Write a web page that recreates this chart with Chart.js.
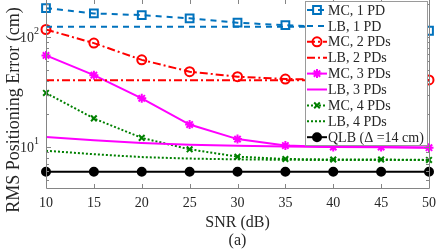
<!DOCTYPE html>
<html><head><meta charset="utf-8">
<script src="https://cdn.jsdelivr.net/npm/chart.js@4/dist/chart.umd.min.js"></script>
<style>html,body{margin:0;padding:0;background:#fff;}#wrap{width:443px;height:250px;position:relative;}</style>
</head><body><div id="wrap"><canvas id="c" width="443" height="250"></canvas></div>
<script>
// ---- data ----
const snr = [10, 15, 20, 25, 30, 35, 40, 45, 50];
const mc1PD = [183, 164, 158, 148, 135, 128, 122, 118, 114];
const lb1PD = [124, 124, 124, 124, 124, 124, 124, 124, 124];
const mc2PDs = [117, 88, 62, 48.4, 43.6, 41.5, 41, 40.8, 40.7];
const lb2PDs = [40.5, 40.5, 40.5, 40.5, 40.5, 40.5, 40.5, 40.5, 40.5];
const mc3PDs = [68, 45, 27.7, 16, 11.8, 10.3, 10.0, 10.0, 9.86];
const lb3PDs = [12.3, 11.5, 10.9, 10.5, 10.25, 10.1, 10.0, 9.95, 9.9];
const mc4PDs = [31, 18.2, 12.1, 9.53, 8.17, 7.78, 7.7, 7.7, 7.63];
const lb4PDs = [9.25, 8.6, 8.1, 7.85, 7.72, 7.65, 7.62, 7.6, 7.6];
const qlb = [5.96, 5.96, 5.96, 5.96, 5.96, 5.96, 5.96, 5.96, 5.96];
const seriesLabels = ['MC, 1 PD', 'LB, 1 PD', 'MC, 2 PDs', 'LB, 2 PDs', 'MC, 3 PDs', 'LB, 3 PDs', 'MC, 4 PDs', 'LB, 4 PDs', 'QLB (\u0394 =14 cm)'];
const yTickValues = [10, 100];
const yTickLabels = [['10', '1'], ['10', '2']];
const yMinorValues = [5, 6, 7, 8, 9, 20, 30, 40, 50, 60, 70, 80, 90, 200];
const xTitle = 'SNR (dB)';
const yTitle = 'RMS Positioning Error (cm)';
const subCaption = '(a)';

const FONT = "'Liberation Serif', 'Times New Roman', serif";
const TXT = '#262626';
const AX = '#858585';
const BLUE = '#0072BD', RED = '#FF0000', MAG = '#FF00FF', GREEN = '#008000', BLACK = '#000000';
const NONE = 'rgba(0,0,0,0)';

function ds(label, data, color, dash, style, radius, fill) {
  return {
    label, data: snr.map((x, i) => ({x, y: data[i]})),
    borderColor: color, backgroundColor: NONE, borderWidth: 2, borderDash: dash,
    pointStyle: style || 'circle', pointRadius: style ? radius : 0, pointHoverRadius: style ? radius : 0,
    pointBorderWidth: 2, pointBorderColor: color, pointBackgroundColor: fill || NONE,
    tension: 0, fill: false, clip: false
  };
}
const DASH = [6, 5], DASHDOT = [8, 3, 2, 3], DOT = [2, 2];
const datasets = [
  ds(seriesLabels[0], mc1PD, BLUE, DASH, 'rect', 5.5),
  ds(seriesLabels[1], lb1PD, BLUE, DASH),
  ds(seriesLabels[2], mc2PDs, RED, DASHDOT, 'circle', 4.5),
  ds(seriesLabels[3], lb2PDs, RED, DASHDOT),
  ds(seriesLabels[4], mc3PDs, MAG, [], 'star', 4.5),
  ds(seriesLabels[5], lb3PDs, MAG, []),
  ds(seriesLabels[6], mc4PDs, GREEN, DOT, 'crossRot', 4),
  ds(seriesLabels[7], lb4PDs, GREEN, DOT),
  ds(seriesLabels[8], qlb, BLACK, [], 'circle', 4, BLACK)
];

function drawMarker(ctx, d, x, y) {
  if (!d.pointRadius) return;
  ctx.save();
  ctx.setLineDash([]);
  ctx.strokeStyle = d.pointBorderColor; ctx.fillStyle = d.pointBackgroundColor; ctx.lineWidth = d.pointBorderWidth;
  if (Chart.helpers && Chart.helpers.drawPoint) {
    Chart.helpers.drawPoint(ctx, {pointStyle: d.pointStyle, radius: d.pointRadius, rotation: 0, borderWidth: d.pointBorderWidth}, x, y);
  }
  ctx.restore();
}

const decor = {
  id: 'decor',
  afterDatasetsDraw(chart) {
    const ctx = chart.ctx, a = chart.chartArea, xs = chart.scales.x, ys = chart.scales.y;
    ctx.save();
    // box (left, bottom, right)
    ctx.strokeStyle = AX; ctx.lineWidth = 1; ctx.setLineDash([]);
    ctx.beginPath();
    ctx.moveTo(a.left + 0.5, a.top); ctx.lineTo(a.left + 0.5, a.bottom + 0.5);
    ctx.lineTo(a.right + 0.5, a.bottom + 0.5); ctx.lineTo(a.right + 0.5, a.top);
    ctx.stroke();
    // inward ticks
    ctx.beginPath();
    snr.forEach(v => {
      const px = Math.round(xs.getPixelForValue(v)) + 0.5;
      ctx.moveTo(px, a.bottom); ctx.lineTo(px, a.bottom - 4);
      ctx.moveTo(px, a.top); ctx.lineTo(px, a.top + 4);
    });
    yTickValues.forEach(v => {
      const py = Math.round(ys.getPixelForValue(v)) + 0.5;
      ctx.moveTo(a.left, py); ctx.lineTo(a.left + 5, py);
      ctx.moveTo(a.right, py); ctx.lineTo(a.right - 5, py);
    });
    yMinorValues.forEach(v => {
      const py = Math.round(ys.getPixelForValue(v)) + 0.5;
      if (py < a.top || py > a.bottom) return;
      ctx.moveTo(a.left, py); ctx.lineTo(a.left + 3, py);
      ctx.moveTo(a.right, py); ctx.lineTo(a.right - 3, py);
    });
    ctx.stroke();
    // y tick labels with superscript
    ctx.fillStyle = TXT;
    yTickValues.forEach((v, i) => {
      const py = ys.getPixelForValue(v);
      ctx.font = '10px ' + FONT;
      const sw = ctx.measureText(yTickLabels[i][1]).width;
      const xr = a.left - 7;
      ctx.textBaseline = 'middle';
      ctx.textAlign = 'left';
      ctx.fillText(yTickLabels[i][1], xr - sw, py - 6);
      ctx.font = '14px ' + FONT;
      ctx.textAlign = 'right';
      ctx.fillText(yTickLabels[i][0], xr - sw, py + 1);
    });
    // titles
    ctx.font = '16px ' + FONT;
    ctx.textAlign = 'center'; ctx.textBaseline = 'middle';
    ctx.fillText(xTitle, (a.left + a.right) / 2, 223);
    ctx.fillText(subCaption, (a.left + a.right) / 2, 241);
    ctx.save();
    ctx.font = '18px ' + FONT;
    ctx.translate(14, 110); ctx.rotate(-Math.PI / 2);
    ctx.fillText(yTitle, 0, 0);
    ctx.restore();
    // legend
    const lx = 305.5, ly = 1.5, lw = 122, lh = 144;
    ctx.fillStyle = '#ffffff';
    ctx.fillRect(lx, ly, lw, lh);
    ctx.strokeStyle = '#9a9a9a'; ctx.lineWidth = 1;
    ctx.strokeRect(lx, ly, lw, lh);
    chart.data.datasets.forEach((d, i) => {
      const y = 10 + i * 15.9;
      ctx.save();
      ctx.strokeStyle = d.borderColor; ctx.lineWidth = d.borderWidth;
      ctx.setLineDash(d.borderDash || []);
      ctx.beginPath(); ctx.moveTo(307, y); ctx.lineTo(327, y); ctx.stroke();
      ctx.restore();
      drawMarker(ctx, d, 317, y);
      ctx.fillStyle = TXT; ctx.font = '14px ' + FONT;
      ctx.textAlign = 'left'; ctx.textBaseline = 'middle';
      ctx.fillText(d.label, 328, y + 1);
    });
    ctx.restore();
  }
};

new Chart(document.getElementById('c'), {
  type: 'line',
  data: {datasets},
  options: {
    responsive: false, animation: false, devicePixelRatio: 1,
    layout: {autoPadding: false, padding: {left: 0, right: 8, top: 0, bottom: 0}},
    plugins: {legend: {display: false}, tooltip: {enabled: false}, title: {display: false}},
    scales: {
      x: {
        type: 'linear', min: 10, max: 50,
        ticks: {stepSize: 5, font: {family: FONT, size: 14}, color: TXT, padding: 7, maxRotation: 0},
        grid: {display: false, drawTicks: false}, border: {display: false},
        afterFit(s) { s.height = 62; }
      },
      y: {
        type: 'logarithmic', min: 4.24, max: 217,
        ticks: {display: false},
        grid: {display: false, drawTicks: false}, border: {display: false},
        afterFit(s) { s.width = 46; }
      }
    }
  },
  plugins: [decor]
});
</script></body></html>
